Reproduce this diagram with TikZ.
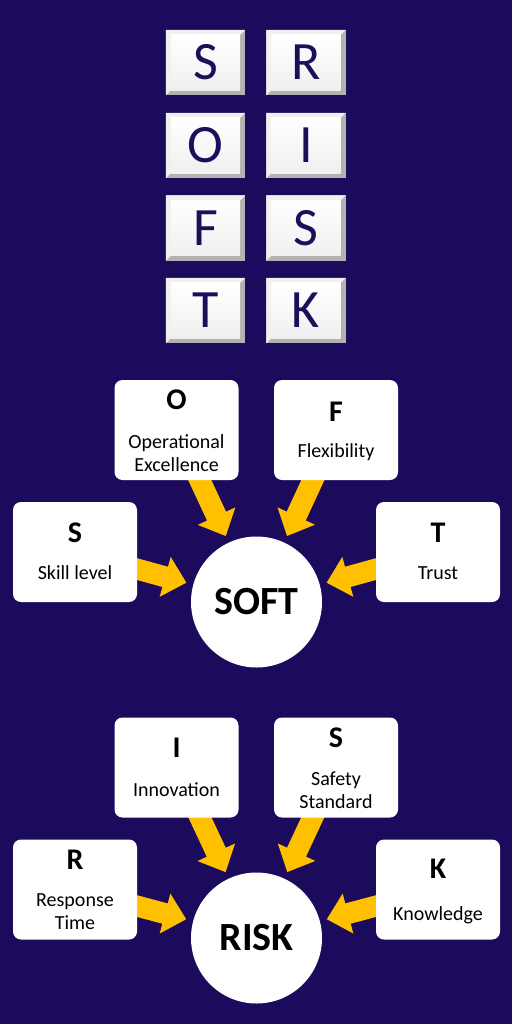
\documentclass[tikz,border=0pt]{standalone}
\usepackage{fontspec}
\setmainfont{Carlito}
\usetikzlibrary{arrows.meta}
\definecolor{bgblue}{RGB}{28,11,92}
\definecolor{gold}{RGB}{255,192,0}
\definecolor{ink}{RGB}{30,14,90}
\pgfdeclarelayer{bg}\pgfdeclarelayer{mid}
\pgfsetlayers{bg,mid,main}
\begin{document}
\begin{tikzpicture}[x=1pt,y=-1pt,
  tile/.style={minimum width=79pt,minimum height=65pt,inner sep=0pt,font=\fontsize{54}{54}\selectfont,text=ink},
  card/.style={fill=white,rounded corners=8pt,minimum width=124pt,minimum height=100pt,inner sep=0pt},
  hub/.style={circle,fill=white,minimum size=131pt,inner sep=0pt,font=\bfseries\fontsize{40}{40}\selectfont},
  lt/.style={inner sep=0pt,font=\bfseries\fontsize{30}{30}\selectfont},
  lab/.style={inner sep=0pt,font=\fontsize{20}{23}\selectfont,align=center},
  feed/.style={gold,line width=21pt,-{Triangle[width=40pt,length=22pt]},shorten <=-14pt,shorten >=7pt}]
\useasboundingbox (0,0) rectangle (512,1024);
\begin{pgfonlayer}{bg}
\fill[bgblue] (0,0) rectangle (512,1024);
\end{pgfonlayer}
% tiles
\node[tile] (t1) at (205.5,62.5) {S};
\node[tile] (t2) at (205.5,145.5) {O};
\node[tile] (t3) at (205.5,228) {F};
\node[tile] (t4) at (205.5,310.5) {T};
\node[tile] (t5) at (306,62.5) {R};
\node[tile] (t6) at (306,145.5) {I};
\node[tile] (t7) at (306,228) {S};
\node[tile] (t8) at (306,310.5) {K};
\begin{pgfonlayer}{mid}
\foreach \n in {t1,t2,t3,t4,t5,t6,t7,t8}{
  \fill[gray!60] (\n.north west) rectangle (\n.south east);
  \fill[gray!12] (\n.north west) -- (\n.north east) -- ([xshift=-5pt,yshift=-5pt]\n.north east)
     -- ([xshift=5pt,yshift=-5pt]\n.north west) -- ([xshift=5pt,yshift=5pt]\n.south west) -- (\n.south west) -- cycle;
  \shade[top color=white,bottom color=gray!12] ([xshift=5pt,yshift=-5pt]\n.north west) rectangle ([xshift=-5pt,yshift=5pt]\n.south east);
}
\end{pgfonlayer}
% SOFT group
\node[card] (cO) at (176.5,430) {};
\node[card] (cF) at (336,430) {};
\node[card] (cS) at (75,552) {};
\node[card] (cT) at (438,552) {};
\node[hub] (soft) at (256.5,602) {SOFT};
\node[lt] (lO) at (176.5,400) {O};
\node[lab] (xO) at (176.5,453.5) {Operational\\Excellence};
\node[lt] (lF) at (336,412) {F};
\node[lab] (xF) at (336,452) {Flexibility};
\node[lt] (lS) at (75,533) {S};
\node[lab] (xS) at (75,573) {Skill level};
\node[lt] (lT) at (438,533) {T};
\node[lab] (xT) at (438,573) {Trust};
% RISK group
\node[card] (cI) at (176.5,767.5) {};
\node[card] (cS2) at (336,767.5) {};
\node[card] (cR) at (75,889.5) {};
\node[card] (cK) at (438,889.5) {};
\node[hub] (risk) at (256.5,938) {RISK};
\node[lt] (lI) at (176.5,748) {I};
\node[lab] (xI) at (176.5,790) {Innovation};
\node[lt] (lS2) at (336,738) {S};
\node[lab] (xS2) at (336,790) {Safety\\Standard};
\node[lt] (lR) at (75,860) {R};
\node[lab] (xR) at (75,912) {Response\\Time};
\node[lt] (lK) at (438,869) {K};
\node[lab] (xK) at (438,915) {Knowledge};
\begin{pgfonlayer}{mid}
\draw[feed] (cO) -- (soft);
\draw[feed] (cF) -- (soft);
\draw[feed] (cS) -- (soft);
\draw[feed] (cT) -- (soft);
\draw[feed] (cI) -- (risk);
\draw[feed] (cS2) -- (risk);
\draw[feed] (cR) -- (risk);
\draw[feed] (cK) -- (risk);
\end{pgfonlayer}
\end{tikzpicture}
\end{document}
